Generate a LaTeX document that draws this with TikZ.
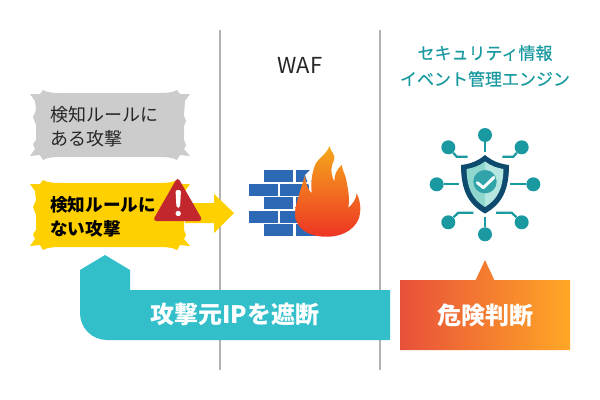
\documentclass[tikz,border=0pt]{standalone}
\usepackage{fontspec}
\setmainfont{Noto Sans CJK JP}
\newfontfamily\headfont[FakeBold=0.25]{Noto Sans CJK JP}
\usetikzlibrary{calc}
\definecolor{bandteal}{HTML}{32BFCA}
\definecolor{iconteal}{HTML}{1A9AA0}
\definecolor{shielddark}{HTML}{0E4A6E}
\definecolor{shieldmid}{HTML}{8FD6CC}
\definecolor{shieldpale}{HTML}{B5E6E0}
\definecolor{brickblue}{HTML}{2D68B5}
\definecolor{burstyellow}{HTML}{FFD000}
\definecolor{burstgrey}{HTML}{CCCCCC}
\definecolor{alertred}{HTML}{C1272D}
\definecolor{flametop}{HTML}{F5A81C}
\definecolor{flamebottom}{HTML}{EE3524}
\definecolor{judgeleft}{HTML}{E8503A}
\definecolor{judgeright}{HTML}{FFA726}

\begin{document}
\begin{tikzpicture}[
    x=0.75pt,
    y=-0.75pt,
    divider/.style ={
        draw=black!30,
        line width=1.5pt
    },
    label/.style ={
        anchor=north west,
        align=left,
        inner sep=0pt,
        text=black!85
    },
    banner/.style ={
        inner sep=0pt,
        text=white,
        font=\fontsize{18}{22}\selectfont\bfseries
    },
    dot/.style ={
        circle,
        fill=iconteal,
        inner sep=0pt,
        minimum size=10.5pt
    },
    wire/.style ={
        draw=iconteal,
        line width=1.7pt
    },
    burst/.pic ={
        \fill[pic actions] (13,0) .. controls (18,3) and (25,3) .. (35,3) -- (125,3)
            .. controls (135,3) and (142,3) .. (147,0) -- (150,4) -- (160,4) -- (155,11)
            -- (154,26) -- (156,31) -- (154,36) -- (154,50) -- (156,55) -- (154,59) -- (160,66)
            -- (150,65) -- (147,70) .. controls (142,67) and (135,67) .. (125,67) -- (35,67)
            .. controls (25,67) and (18,67) .. (13,70) -- (10,65) -- (0,66) -- (5,59) -- (3,54)
            -- (6,50) -- (6,35) -- (3,27) -- (6,20) -- (5,11) -- (0,4) -- (10,4) -- cycle;
    }
    ]
    % dividers
    \draw[divider] (220,30) -- (220,370);
    \draw[divider] (380,30) -- (380,370);

    % left column
    \pic[fill=burstgrey] at (30,90) {burst};
    \fill[burstyellow] (185,203) -- (214,203) -- (214,194) -- (234,213) -- (214,233) -- (214,223) -- (185,223) -- cycle;
    \pic[fill=burstyellow] at (30,180) {burst};
    \node[label,font=\fontsize{13.5}{18}\selectfont] (known) at (50,106) {検知ルールに\\ある攻撃};
    \node[label,font=\fontsize{13.2}{18.5}\selectfont\bfseries,text=black] (unknown) at (50,196) {検知ルールに\\ない攻撃};
    \fill[alertred,rounded corners=3pt] (177.7,177) -- (203,221) -- (152.5,221) -- cycle;
    \fill[white,rounded corners=1.5pt] (175.5,190) -- (181,190) -- (180,208) -- (176.5,208) -- cycle;
    \fill[white] (178.2,213.5) circle (2.7);

    % wall
    \foreach \x/ \y in {264/170, 296/170, 249/184, 280/184, 264/197, 296/197, 249/211, 280/211, 264/224, 296/224}
        \fill[brickblue] (\x,\y) rectangle ++(29,12);
    \fill[white] (305,175) -- (311.7,193.3) -- (311.7,180) -- (315,165) -- cycle;
    \shade[top color=flametop,bottom color=flamebottom]
        (329.3,146) .. controls (331,152) and (336,155) .. (334,160)
        .. controls (331,166) and (330,172) .. (334.3,181.7)
        .. controls (334,175) and (337,169) .. (341.7,165)
        .. controls (343,172) and (346,176) .. (346.7,182)
        .. controls (348,190) and (350,198) .. (348.3,207.7)
        .. controls (353,204) and (356,199) .. (356.7,193.3)
        .. controls (360,200) and (361,207) .. (360,213.3)
        .. controls (359,226) and (345,237) .. (326.7,236.7)
        .. controls (308,237) and (295,228) .. (295,213.3)
        .. controls (295,205) and (300,193) .. (305,175)
        .. controls (305,182) and (308,190) .. (311.7,193.3)
        .. controls (311,185) and (311,176) .. (315,165)
        .. controls (318,158) and (328,153) .. (329.3,146) -- cycle;

    \node[inner sep=0pt,text=black!85,font=\fontsize{16.5}{18}\selectfont] (waf) at (300,65) {WAF};

    % engine icon
    \node[align=center,inner sep=0pt,text=iconteal,font=\headfont\fontsize{12.75}{19.5}\selectfont] (engine) at (485,66) {セキュリティ情報\\イベント管理エンジン};
    \foreach \name/ \pos in {{top/(485,135)}, {left/(436.7,184.3)}, {right/(533.3,184.3)}, {bottom/(485,234.3)},
                             {ul/(448.3,147.3)}, {ur/(521.7,147.3)}, {ll/(448.3,222.3)}, {lr/(521.7,222.3)}}
        \node[dot] (\name) at \pos {};
    \draw[wire] (top) -- (485,152.3);
    \draw[wire] (left) -- (459,184.3);
    \draw[wire] (right) -- (510,184.3);
    \draw[wire] (bottom) -- (485,217);
    \draw[wire] (ul) -- (456.7,156.7) -- (467.7,156.7);
    \draw[wire] (ur) -- (513.3,156.7) -- (502.3,156.7);
    \draw[wire] (ll) -- (458.3,212.7) -- (473.3,212.7);
    \draw[wire] (lr) -- (511.7,212.7) -- (496,212.7);

    \fill[shielddark] (485,155) .. controls (478,161) and (470,164) .. (461,165)
        .. controls (461,190) and (468,204) .. (485,213.5)
        .. controls (502,204) and (509,190) .. (509,165)
        .. controls (500,164) and (492,161) .. (485,155) -- cycle;
    \fill[shieldmid] (485,161.5) .. controls (479,166) and (473,168) .. (466.5,169)
        .. controls (467,188) and (472,199) .. (485,207) -- cycle;
    \fill[shieldpale] (485,161.5) .. controls (491,166) and (497,168) .. (503.5,169)
        .. controls (503,188) and (498,199) .. (485,207) -- cycle;
    \fill[iconteal!90!white] (485,181.7) circle (11.7);
    \draw[white,line width=2.2pt,line cap=round,line join=round] (477.3,182.7) -- (483.3,187.7) -- (494,177.3);

    % bottom banners
    \fill[bandteal] (105,255) -- (130,270) -- (130,290) -- (390,290) -- (390,340) -- (107,340)
        .. controls (92,340) and (80,328) .. (80,313) -- (80,270) -- cycle;
    \node[banner] (block) at (235,314) {攻撃元IPを遮断};

    \shade[left color=judgeleft,right color=judgeright]
        (400,280) -- (475.7,280) -- (485,260) -- (494.3,280) -- (570,280) -- (570,350) -- (400,350) -- cycle;
    \node[banner] (judge) at (485,315) {危険判断};

    \useasboundingbox (0,0) rectangle (600,400);
\end{tikzpicture}
\end{document}
